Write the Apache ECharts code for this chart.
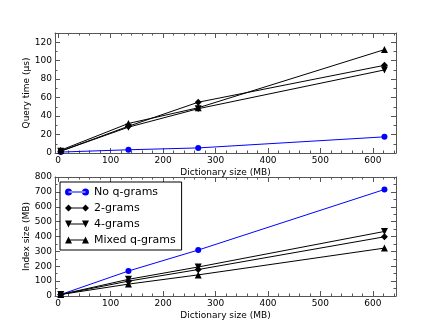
<!DOCTYPE html>
<html>
<head>
<meta charset="utf-8">
<script src="https://cdn.jsdelivr.net/npm/echarts@6/dist/echarts.min.js"></script>
<style>
  html, body { margin: 0; padding: 0; background: #fff; }
  #chart { width: 440px; height: 330px; }
</style>
</head>
<body>
<div id="chart"></div>
<script>
// dictionary sizes (MB) on the x axis
var dictSize = [5, 134, 267, 622];
var seriesNames = ['No q-grams', '2-grams', '4-grams', 'Mixed q-grams'];

// query time (us)
var queryNo = [1, 3.5, 5.5, 17.5];
var query2 = [2, 29, 55, 95];
var query4 = [2, 28, 48, 90];
var queryMixed = [3, 32, 49, 112];

// index size (MB)
var indexNo = [10, 168, 309, 716];
var index2 = [10, 100, 178, 398];
var index4 = [10, 112, 195, 434];
var indexMixed = [10, 80, 142, 322];

// ticks
var xTicks = [0, 100, 200, 300, 400, 500, 600];
var xMinor = [20, 40, 60, 80, 120, 140, 160, 180, 220, 240, 260, 280, 320, 340, 360, 380,
  420, 440, 460, 480, 520, 540, 560, 580, 620, 640];
var queryTicks = [0, 20, 40, 60, 80, 100, 120];
var queryMinor = [10, 30, 50, 70, 90, 110, 130];
var indexTicks = [0, 100, 200, 300, 400, 500, 600, 700, 800];
var indexMinor = [50, 150, 250, 350, 450, 550, 650, 750];

var frame = '#555';
var font = 'DejaVu Sans';

function xAx(g, pos, ticks, len, major, name) {
  return {
    type: 'value', gridIndex: g, position: pos, min: -6, max: 644,
    name: name || '', nameLocation: 'middle', nameGap: 15,
    nameTextStyle: { fontFamily: font, fontSize: 9, color: '#000' },
    axisLine: { show: major, onZero: false, lineStyle: { color: frame, width: 1 } },
    axisTick: { show: true, inside: true, length: len, customValues: ticks, lineStyle: { color: frame } },
    axisLabel: { show: !!name, customValues: ticks, margin: 3, fontFamily: font, fontSize: 9, color: '#000' },
    splitLine: { show: false }
  };
}
function yAx(g, pos, min, max, ticks, len, major, name) {
  return {
    type: 'value', gridIndex: g, position: pos, min: min, max: max,
    name: name || '', nameLocation: 'middle', nameGap: 24, nameMoveOverlap: false,
    nameTextStyle: { fontFamily: font, fontSize: 9, color: '#000' },
    axisLine: { show: major, onZero: false, lineStyle: { color: frame, width: 1 } },
    axisTick: { show: true, inside: true, length: len, customValues: ticks, lineStyle: { color: frame } },
    axisLabel: { show: !!name, customValues: ticks, margin: 3, fontFamily: font, fontSize: 9, color: '#000' },
    splitLine: { show: false }
  };
}

function pairs(ys) {
  return dictSize.map(function (x, i) { return [x, ys[i]]; });
}

var downTri = 'path://M-1,-1L1,-1L0,1Z';
var marks = ['circle', 'diamond', downTri, 'triangle'];
var sizes = [6, 7, 7, 7];
var colors = ['#0000ff', '#000', '#000', '#000'];

function line(name, k, g, ys) {
  return {
    name: name, type: 'line', xAxisIndex: g * 4, yAxisIndex: g * 4,
    data: pairs(ys), symbol: marks[k], symbolSize: sizes[k], showSymbol: true,
    lineStyle: { color: colors[k], width: 1 },
    itemStyle: { color: colors[k] },
    animation: false
  };
}

// legend icons: a short line with two markers
var iconLine = 'M3.5,3L20.5,3L20.5,4L3.5,4Z';
var icons = [
  'path://' + iconLine + 'M0,3.5A3.5,3.5 0 1 0 7,3.5A3.5,3.5 0 1 0 0,3.5ZM17,3.5A3.5,3.5 0 1 0 24,3.5A3.5,3.5 0 1 0 17,3.5Z',
  'path://' + iconLine + 'M3.5,0L7,3.5L3.5,7L0,3.5ZM20.5,0L24,3.5L20.5,7L17,3.5Z',
  'path://' + iconLine + 'M0,0L7,0L3.5,7ZM17,0L24,0L20.5,7Z',
  'path://' + iconLine + 'M3.5,0L7,7L0,7ZM20.5,0L24,7L17,7Z'
];

var chart = echarts.init(document.getElementById('chart'));
chart.setOption({
  backgroundColor: '#fff',
  animation: false,
  grid: [
    { left: 55, top: 33, width: 341, height: 120 },
    { left: 55, top: 177, width: 341, height: 119 }
  ],
  legend: {
    orient: 'vertical', left: 60, top: 182,
    padding: [4, 6, 4, 5], itemGap: 4, itemWidth: 24, itemHeight: 7,
    borderColor: '#000', borderWidth: 1, borderRadius: 0, backgroundColor: '#fff',
    textStyle: { fontFamily: font, fontSize: 11, color: '#000', lineHeight: 12 },
    data: seriesNames.map(function (n, i) { return { name: n, icon: icons[i] }; })
  },
  xAxis: [
    xAx(0, 'bottom', xTicks, 5, true, 'Dictionary size (MB)'),
    xAx(0, 'bottom', xMinor, 2.5, false),
    xAx(0, 'top', xTicks, 5, true),
    xAx(0, 'top', xMinor, 2.5, false),
    xAx(1, 'bottom', xTicks, 5, true, 'Dictionary size (MB)'),
    xAx(1, 'bottom', xMinor, 2.5, false),
    xAx(1, 'top', xTicks, 5, true),
    xAx(1, 'top', xMinor, 2.5, false)
  ],
  yAxis: [
    yAx(0, 'left', 0, 130, queryTicks, 5, true, 'Query time (\u03bcs)'),
    yAx(0, 'left', 0, 130, queryMinor, 2.5, false),
    yAx(0, 'right', 0, 130, queryTicks, 5, true),
    yAx(0, 'right', 0, 130, queryMinor, 2.5, false),
    yAx(1, 'left', 0, 800, indexTicks, 5, true, 'Index size (MB)'),
    yAx(1, 'left', 0, 800, indexMinor, 2.5, false),
    yAx(1, 'right', 0, 800, indexTicks, 5, true),
    yAx(1, 'right', 0, 800, indexMinor, 2.5, false)
  ],
  series: [
    line(seriesNames[0], 0, 0, queryNo),
    line(seriesNames[1], 1, 0, query2),
    line(seriesNames[2], 2, 0, query4),
    line(seriesNames[3], 3, 0, queryMixed),
    line(seriesNames[0], 0, 1, indexNo),
    line(seriesNames[1], 1, 1, index2),
    line(seriesNames[2], 2, 1, index4),
    line(seriesNames[3], 3, 1, indexMixed)
  ]
});
</script>
</body>
</html>
